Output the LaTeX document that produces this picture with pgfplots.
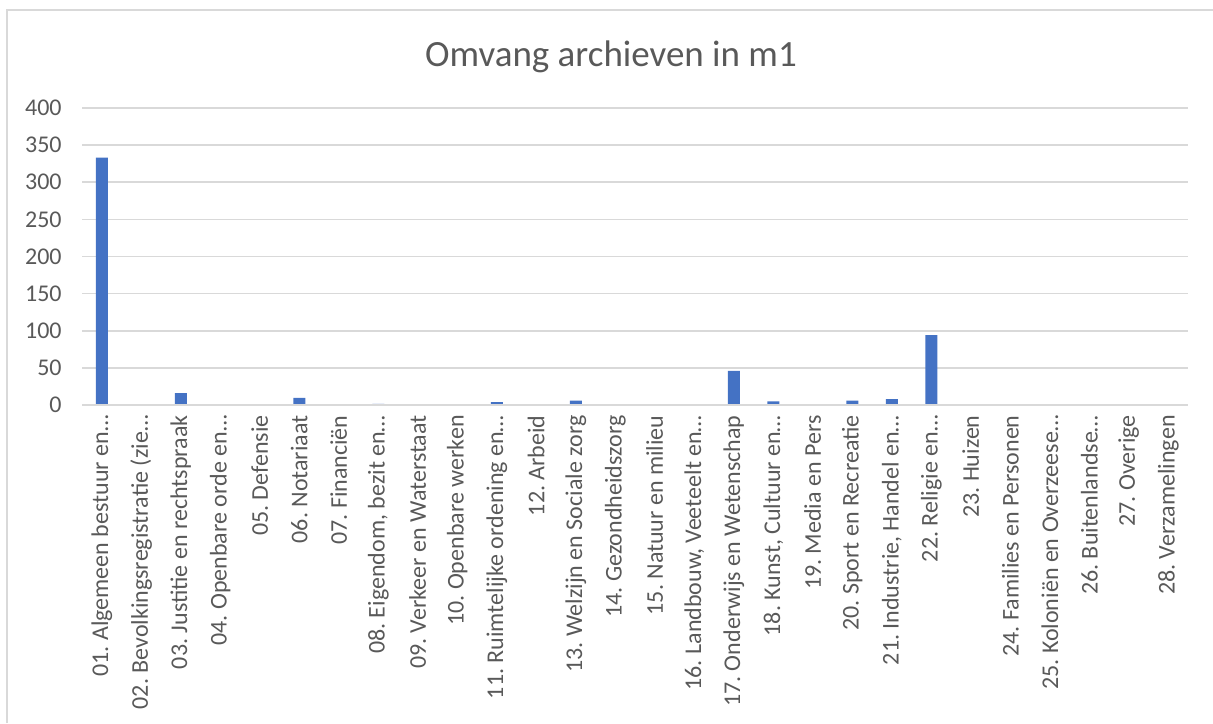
\documentclass[border=0pt]{standalone}
\usepackage{pgfplots}
\pgfplotsset{compat=1.18}
\usepackage{fontspec}
\setmainfont{Carlito}
\definecolor{barblue}{HTML}{4472C4}
\definecolor{txtgray}{HTML}{595959}
\definecolor{gridgray}{HTML}{D9D9D9}
\pgfplotstableread{
x y
1 333
2 0
3 16
4 0.8
5 0
6 9.5
7 0
8 1.5
9 0.8
10 0
11 4
12 0
13 6
14 0.8
15 0
16 0.8
17 46
18 5
19 0
20 6
21 8
22 94
23 0.8
24 1
25 0
26 0.8
27 0
28 0.8
}\datatable
\begin{document}
\frenchspacing
\begin{tikzpicture}[x=1pt,y=1pt]
\path[use as bounding box] (0,0) rectangle (606.5,361.5);
\draw[gridgray, line width=0.8pt] (3.5,0) -- (3.5,356.5) -- (606.5,356.5);
\node[anchor=base, text=txtgray, font=\fontsize{18.5}{20}\selectfont] at (305.5,328) {Omvang archieven in m1};
\begin{axis}[
  at={(41pt,159pt)}, anchor=origin,
  scale only axis,
  width=553pt, height=148.5pt,
  xmin=0.5, xmax=28.5,
  ymin=0, ymax=400,
  ytick={0,50,...,400},
  xtick={1,...,28},
  xticklabels={
    01. Algemeen bestuur en…,
    02. Bevolkingsregistratie (zie…,
    03. Justitie en rechtspraak,
    04. Openbare orde en…,
    05. Defensie,
    06. Notariaat,
    07. Financiën,
    {08. Eigendom, bezit en…},
    09. Verkeer en Waterstaat,
    10. Openbare werken,
    11. Ruimtelijke ordening en…,
    12. Arbeid,
    13. Welzijn en Sociale zorg,
    14. Gezondheidszorg,
    15. Natuur en milieu,
    {16. Landbouw, Veeteelt en…},
    17. Onderwijs en Wetenschap,
    {18. Kunst, Cultuur en…},
    19. Media en Pers,
    20. Sport en Recreatie,
    {21. Industrie, Handel en…},
    22. Religie en…,
    23. Huizen,
    24. Families en Personen,
    25. Koloniën en Overzeese…,
    26. Buitenlandse…,
    27. Overige,
    28. Verzamelingen},
  x tick label style={rotate=90, anchor=east, inner sep=0pt, text=txtgray, font=\fontsize{12}{14}\selectfont\frenchspacing},
  xticklabel shift=5pt,
  y tick label style={inner sep=0pt, text=txtgray, font=\fontsize{12}{14}\selectfont},
  yticklabel shift=10pt,
  /pgf/number format/assume math mode=true,
  major tick length=0pt,
  ymajorgrids,
  grid style={gridgray, line width=0.8pt},
  axis line style={draw=none},
  axis x line*=bottom,
  axis y line*=left,
  clip=false,
]
\addplot[ybar, bar width=6pt, fill=barblue, draw=none] table[x=x,y=y] {\datatable};
\draw[gridgray, line width=0.8pt] (axis cs:0.5,0) -- (axis cs:28.5,0);
\end{axis}
\end{tikzpicture}
\end{document}
